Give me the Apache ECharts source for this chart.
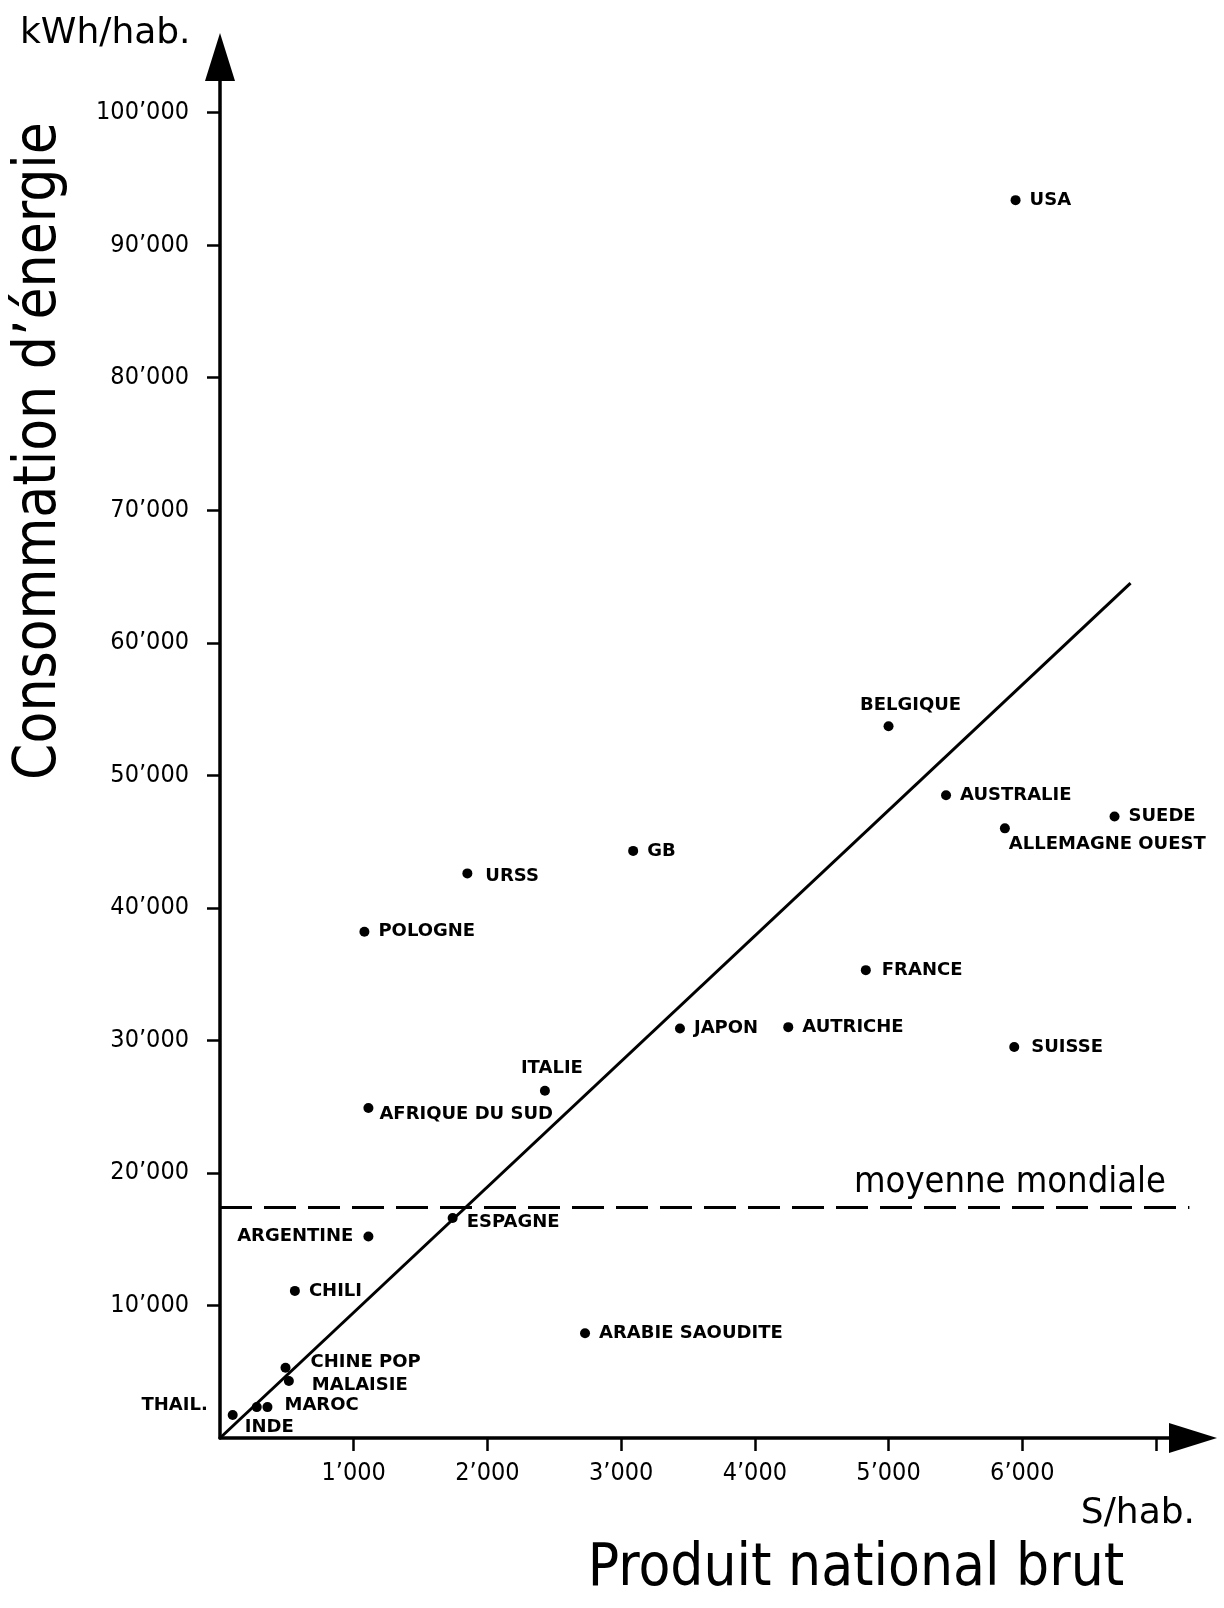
<!DOCTYPE html>
<html>
<head>
<meta charset="utf-8">
<script src="https://cdn.jsdelivr.net/npm/echarts@6/dist/echarts.min.js"></script>
<style>
  html, body { margin: 0; padding: 0; background: #fff; }
  #chart { width: 1224px; height: 1608px; }
</style>
</head>
<body>
<div id="chart"></div>
<script>
// ---- data ----
const countries = ['USA', 'BELGIQUE', 'AUSTRALIE', 'SUEDE', 'ALLEMAGNE OUEST', 'GB', 'URSS', 'POLOGNE',
  'FRANCE', 'JAPON', 'AUTRICHE', 'SUISSE', 'ITALIE', 'AFRIQUE DU SUD', 'ESPAGNE', 'ARGENTINE',
  'CHILI', 'ARABIE SAOUDITE', 'CHINE POP', 'MALAISIE', 'THAIL.', 'MAROC', 'INDE'];
const gnpPerCapita = [5950, 5000, 5430, 6690, 5870, 3090, 1850, 1080,
  4830, 3440, 4250, 5940, 2430, 1110, 1740, 1110,
  560, 2730, 490, 515, 275, 355, 95];
const energyPerCapita = [93400, 53700, 48500, 46900, 46000, 44300, 42600, 38200,
  35300, 30900, 31000, 29500, 26200, 24900, 16600, 15200,
  11100, 7900, 5300, 4300, 2330, 2330, 1730];
const worldAverage = 17400;
const trendX = [0, 6810];
const trendY = [0, 64500];
const xTickValues = [1000, 2000, 3000, 4000, 5000, 6000, 7000];
const xLabelValues = [1000, 2000, 3000, 4000, 5000, 6000];
const yTickValues = [10000, 20000, 30000, 40000, 50000, 60000, 70000, 80000, 90000, 100000];

// ---- label placement (style, not data) ----
const labelPlacement = {
  'BELGIQUE': { position: 'top', distance: 7, offset: [22, 0] },
  'ITALIE': { position: 'top', distance: 8, offset: [7, 0] },
  'ALLEMAGNE OUEST': { position: 'right', offset: [-10, 16] },
  'AFRIQUE DU SUD': { position: 'right', offset: [-3, 6] },
  'ESPAGNE': { position: 'right', offset: [0, 4] },
  'ARGENTINE': { position: 'left', distance: 10, offset: [0, 0] },
  'CHINE POP': { position: 'right', offset: [11, -5] },
  'MALAISIE': { position: 'right', offset: [9, 4] },
  'MAROC': { position: 'right', offset: [3, -2] },
  'THAIL.': { position: 'left', distance: 44, offset: [0, -2] },
  'INDE': { position: 'right', offset: [-2, 12] },
  'URSS': { position: 'right', offset: [4, 3] },
  'SUISSE': { position: 'right', offset: [3, 0] },
  'FRANCE': { position: 'right', offset: [2, 0] }
};

const fmt = v => (v / 1000) + '\u2019000';
const INK = '#000';

const scatterData = countries.map((name, i) => {
  const p = labelPlacement[name] || { position: 'right', offset: [0, 0] };
  return {
    name: name,
    value: [gnpPerCapita[i], energyPerCapita[i]],
    label: { position: p.position, distance: p.distance != null ? p.distance : 9, offset: p.offset }
  };
});

const chart = echarts.init(document.getElementById('chart'), null, { renderer: 'canvas' });

const axisFont = { fontFamily: 'DejaVu Sans Condensed', fontSize: 25, color: INK };

chart.setOption({
  backgroundColor: '#fff',
  animation: false,
  grid: { left: 220, right: 31, top: 57, bottom: 170, containLabel: false, outerBoundsMode: 'none' },
  xAxis: {
    type: 'value', min: 0, max: 7277,
    splitLine: { show: false },
    axisLine: { show: true, onZero: false, lineStyle: { color: INK, width: 3.5 },
      symbol: ['none', 'triangle'], symbolSize: [30, 48] },
    axisTick: { show: true, length: 13, lineStyle: { color: INK, width: 2.5 }, customValues: xTickValues },
    axisLabel: Object.assign({ margin: 23, formatter: fmt, customValues: xLabelValues }, axisFont)
  },
  yAxis: {
    type: 'value', min: 0, max: 104200,
    splitLine: { show: false },
    axisLine: { show: true, onZero: false, lineStyle: { color: INK, width: 3.5 },
      symbol: ['none', 'triangle'], symbolSize: [30, 48] },
    axisTick: { show: true, length: 13, lineStyle: { color: INK, width: 2.5 }, customValues: yTickValues },
    axisLabel: Object.assign({ margin: 31, formatter: fmt, customValues: yTickValues }, axisFont)
  },
  series: [
    {
      type: 'line', name: 'moyenne mondiale',
      data: [[0, worldAverage], [7250, worldAverage]],
      symbol: 'none', silent: true,
      lineStyle: { color: INK, width: 3, type: [32, 12] }
    },
    {
      type: 'line', name: 'tendance',
      data: trendX.map((x, i) => [x, trendY[i]]),
      symbol: 'none', silent: true,
      lineStyle: { color: INK, width: 3 }
    },
    {
      type: 'scatter',
      symbol: 'circle', symbolSize: 10,
      itemStyle: { color: INK, opacity: 1 },
      data: scatterData,
      label: {
        show: true,
        formatter: p => p.name,
        color: INK,
        opacity: 1,
        fontFamily: 'DejaVu Sans',
        fontWeight: 'bold',
        fontSize: 18
      }
    }
  ],
  graphic: [
    { type: 'text', x: 20, y: 34,
      style: { text: 'kWh/hab.', font: '36px "DejaVu Sans"', fill: INK, verticalAlign: 'middle' } },
    { type: 'text', x: 40, y: 451, rotation: Math.PI / 2,
      style: { text: 'Consommation d\u2019\u00e9nergie', font: '58px "DejaVu Sans Condensed"', fill: INK,
        align: 'center', verticalAlign: 'middle' } },
    { type: 'text', x: 1195, y: 1514,
      style: { text: 'S/hab.', font: '36px "DejaVu Sans"', fill: INK, align: 'right', verticalAlign: 'middle' } },
    { type: 'text', x: 856, y: 1570,
      style: { text: 'Produit national brut', font: '58px "DejaVu Sans Condensed"', fill: INK,
        align: 'center', verticalAlign: 'middle' } },
    { type: 'text', x: 1010, y: 1183,
      style: { text: 'moyenne mondiale', font: '36px "DejaVu Sans Condensed"', fill: INK,
        align: 'center', verticalAlign: 'middle' } }
  ]
});
</script>
</body>
</html>
